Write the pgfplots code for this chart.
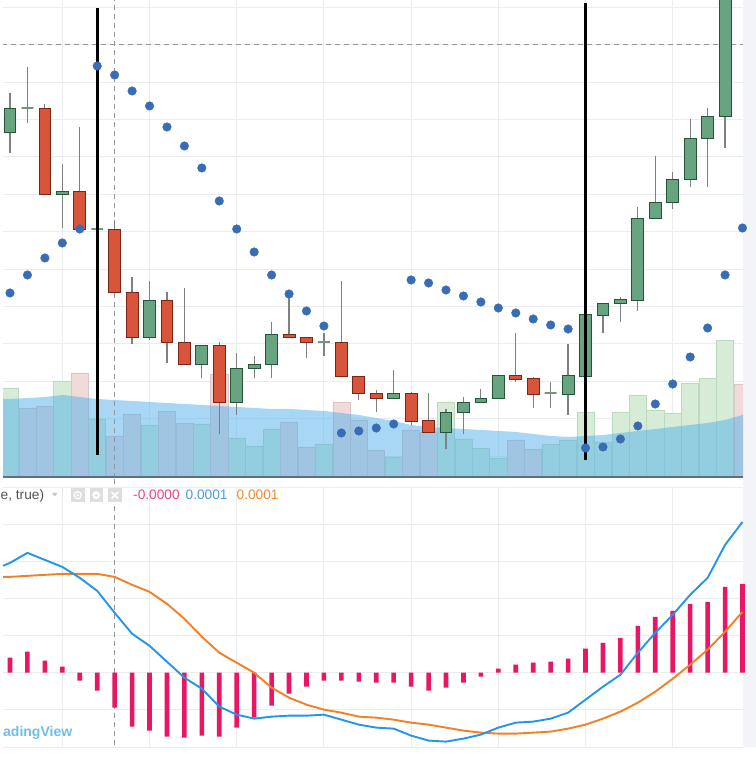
\documentclass[border=0pt]{standalone}
\usepackage{pgfplots}
\pgfplotsset{compat=1.18}
\usepackage{pgfplotstable}
\usepackage{fontspec}
\setmainfont{Liberation Sans}
\definecolor{gridc}{RGB}{234,236,240}
\definecolor{upfill}{RGB}{104,164,128}
\definecolor{updraw}{RGB}{38,84,58}
\definecolor{dnfill}{RGB}{216,84,58}
\definecolor{dndraw}{RGB}{122,38,22}
\definecolor{wickc}{RGB}{128,128,128}
\definecolor{dojic}{RGB}{112,150,124}
\definecolor{volup}{RGB}{214,236,214}
\definecolor{volupd}{RGB}{188,218,190}
\definecolor{voldn}{RGB}{240,218,218}
\definecolor{voldnd}{RGB}{222,196,198}
\definecolor{volma}{RGB}{81,177,235}
\definecolor{sarc}{RGB}{56,108,180}
\definecolor{histc}{RGB}{232,22,100}
\definecolor{macdc}{RGB}{36,150,232}
\definecolor{sigc}{RGB}{244,128,36}
\definecolor{axisc}{RGB}{98,110,126}
\definecolor{stripc}{RGB}{243,244,247}
\definecolor{dashc}{RGB}{150,150,150}
\definecolor{hdrtext}{RGB}{85,85,85}
\definecolor{iconc}{RGB}{222,222,222}
\definecolor{vpink}{RGB}{230,70,140}
\definecolor{vblue}{RGB}{70,160,225}
\definecolor{vorange}{RGB}{240,140,50}
\definecolor{wmark}{RGB}{110,190,232}

% candles: i open close high low type (1 up, 0 down, 2 doji)
\pgfplotstableread{
i o c h l t
0 346 370 385 325 1
1 370 370 411 355 2
2 370 284 374 284 0
3 284 287 314 250 1
4 287 249 351 249 0
5 249 249 276 243 2
6 249 186 258 186 0
7 186 141 201 134 0
8 141 178 197 138 1
9 178 136 186 115 0
10 136 114 190 114 0
11 114 133 133 100 1
12 133 76 136 44 0
13 76 110 125 63 1
14 110 114 122 100 1
15 114 144 156 100 1
16 144 141 184 141 0
17 141 136 141 120 0
18 136 136 145 122 2
19 136 102 197 102 0
20 102 85 102 78 0
21 85 80 88 66 0
22 80 85 108 80 1
23 85 57 86 53 0
24 58 46 85 46 0
25 46 66 69 29 1
26 66 76 81 44 1
27 76 80 89 76 1
28 80 103 103 80 1
29 103 99 145 96 0
30 100 84 101 70 0
31 85 85 96 70 2
32 84 103 134 63 1
33 102 164 173 98 1
34 163 175 175 145 1
35 175 179 181 156 1
36 178 260 271 167 1
37 260 276 322 260 1
38 276 299 306 269 1
39 299 340 359 291 1
40 340 362 370 291 1
41 362 508 518 330 1
}\candles

\pgfplotsset{
  panel/.style={scale only axis, anchor=south west, width=740bp,
    xmin=-0.4014, xmax=42.03,
    axis line style={draw=none}, tick style={draw=none},
    xticklabels={}, yticklabels={},
    xtick={3,8,...,38}, grid=major,
    major grid style={gridc, line width=0.9bp}},
  wick/.style={wickc, line width=1.2bp},
  body0/.style={fill=dnfill, draw=dndraw, line width=0.9bp},
  body1/.style={fill=upfill, draw=updraw, line width=0.9bp},
  body2/.style={draw=dojic, line width=1.3bp},
}

\begin{document}
\begin{tikzpicture}[x=1bp,y=1bp]
\useasboundingbox (0,0) rectangle (756,757);
\fill[white] (0,0) rectangle (756,757);
\fill[stripc] (743,10) rectangle (756,757);

% ---------------- price panel ----------------
\begin{axis}[panel, at={(3bp,279bp)}, height=478bp, ymin=0, ymax=478,
  ytick={22,59.4,96.8,134.2,171.6,209,246.4,283.8,321.2,358.6,396,433.4,470.8}]
% volume bars
\addplot[ybar, bar width=0.98, bar shift=0pt, fill=volup, draw=volupd, line width=0.6bp] coordinates {
(0,90)(3,97)(5,59)(8,53)(11,54)(13,40)(14,32)(15,49)(18,34)(22,21)(25,76)(26,39)(27,30)(28,20)
(31,34)(32,38)(33,66)(34,36)(35,66)(36,83)(37,68)(38,65)(39,95)(40,100)(41,138)};
\addplot[ybar, bar width=0.98, bar shift=0pt, fill=voldn, draw=voldnd, line width=0.6bp] coordinates {
(1,70)(2,72)(4,105)(6,42)(7,64)(9,67)(10,55)(12,104)(16,56)(17,31)(19,76)(20,58)(21,28)(23,48)(24,46)
(29,38)(30,29)(42,94)};
% volume moving average area
\addplot[draw=none, fill=volma, fill opacity=0.5] coordinates {
(-0.45,79)(0,79)(1,80)(2,81)(3,83)(4,81)(5,79)(6,78)(7,77)(8,76)(9,75)(10,74)(11,73)(12,72)(13,71)
(14,70)(15,69)(16,69)(17,68)(18,67)(19,65)(20,63)(21,60)(22,57)(23,53)(24,51)(25,50)(26,49)(27,48)
(28,47)(29,46)(30,44)(31,42)(32,41)(33,42)(34,43)(35,45)(36,47)(37,49)(38,51)(39,53)(40,55)(41,58)
(42,63)(42.1,64)} \closedcycle;
% crosshair
\addplot[dashc, line width=1bp, dash pattern=on 5bp off 4bp] coordinates {(-0.45,433) (42.1,433)};
\addplot[dashc, line width=1bp, dash pattern=on 5bp off 4bp] coordinates {(6,0) (6,478)};
% candles
\pgfplotsinvokeforeach{0,...,41}{%
  \pgfplotstablegetelem{#1}{o}\of\candles\let\cO\pgfplotsretval
  \pgfplotstablegetelem{#1}{c}\of\candles\let\cC\pgfplotsretval
  \pgfplotstablegetelem{#1}{h}\of\candles\let\cH\pgfplotsretval
  \pgfplotstablegetelem{#1}{l}\of\candles\let\cL\pgfplotsretval
  \pgfplotstablegetelem{#1}{t}\of\candles\let\cT\pgfplotsretval
  \pgfmathsetmacro\xa{#1-0.34}%
  \pgfmathsetmacro\xb{#1+0.34}%
  \edef\tmp{\noexpand\addplot[wick] coordinates {(#1,\cH) (#1,\cL)};%
    \noexpand\addplot[body\cT] coordinates {(\xa,\cO) (\xb,\cO) (\xb,\cC) (\xa,\cC)} -- cycle;}%
  \tmp
}
% parabolic SAR
\addplot[only marks, mark=*, mark size=4.3bp, mark options={fill=sarc, draw=sarc}] coordinates {
(0,185)(1,203)(2,220)(3,235)(4,249)(5,412)(6,403)(7,387)(8,372)(9,351)(10,332)(11,310)(12,277)(13,249)
(14,226)(15,203)(16,184)(17,167)(18,152)(19,45)(20,47)(21,50)(22,54)(23,198)(24,195)(25,188)(26,182)
(27,176)(28,170)(29,165)(30,159)(31,153)(32,149)(33,30)(34,31)(35,39)(36,52)(37,74)(38,94)(39,121)
(40,150)(41,203)(42,250)};
% vertical markers
\addplot[black, line width=2.6bp] coordinates {(5,23) (5,470)};
\addplot[black, line width=2.6bp] coordinates {(33,18) (33,475)};
\end{axis}
\draw[axisc, line width=2bp] (3,279.5) -- (743,279.5);

% ---------------- MACD panel ----------------
\begin{axis}[panel, at={(3bp,10bp)}, height=260bp, ymin=-74.4, ymax=186, clip=false,
  ytick={-74.4,-37.2,0,37.2,74.4,111.6,148.8,186}]
\addplot[dashc, line width=1bp, dash pattern=on 5bp off 4bp] coordinates {(6,-72) (6,196)};
\addplot[ybar, bar width=4.6bp, bar shift=0pt, fill=histc, draw=none] coordinates {
(0,15)(1,21)(2,12)(3,6)(4,-8)(5,-18)(6,-35)(7,-54)(8,-58)(9,-64)(10,-65)(11,-63)(12,-64)(13,-55)
(14,-45)(15,-33)(16,-21)(17,-14)(18,-8)(19,-8)(20,-9)(21,-10)(22,-10)(23,-14)(24,-18)(25,-15)(26,-10)
(27,-4)(28,4)(29,8)(30,10)(31,11)(32,14)(33,24)(34,30)(35,35)(36,47)(37,56)(38,62)(39,69)(40,71)
(41,86)(42,89)};
\addplot[sigc, line width=1.9bp] coordinates {
(-0.4,96)(0,96)(1,97)(2,98)(3,99)(4,99)(5,99)(6,96)(7,88)(8,81)(9,69)(10,54)(11,36)(12,20)(13,10)
(14,0)(15,-15)(16,-25)(17,-32)(18,-37)(19,-40)(20,-44)(21,-45)(22,-47)(23,-50)(24,-52)(25,-55)(26,-58)
(27,-60)(28,-61)(29,-61)(30,-60)(31,-59)(32,-56)(33,-52)(34,-46)(35,-39)(36,-30)(37,-19)(38,-6)
(39,8)(40,23)(41,41)(42,61)};
\addplot[macdc, line width=1.9bp] coordinates {
(-0.4,107)(0,110)(1,120)(2,113)(3,106)(4,95)(5,82)(6,60)(7,39)(8,27)(9,11)(10,-5)(11,-16)(12,-34)
(13,-42)(14,-46)(15,-44)(16,-43)(17,-43)(18,-42)(19,-47)(20,-52)(21,-55)(22,-56)(23,-63)(24,-68)
(25,-69)(26,-66)(27,-62)(28,-55)(29,-50)(30,-49)(31,-46)(32,-40)(33,-27)(34,-14)(35,-2)(36,20)
(37,40)(38,58)(39,78)(40,95)(41,128)(42,151)};
\end{axis}

% ---------------- header of MACD pane ----------------
\node[anchor=base west, inner sep=0, text=hdrtext] at (0.5,257)
  {\fontsize{13.7bp}{16bp}\selectfont e, true)};
\fill[black!22] (52,264) -- (57.5,264) -- (54.75,260.5) -- cycle;
\foreach \bx in {71,89.5,108}{\fill[iconc] (\bx,255) rectangle ++(13.5,13.5);}
\draw[white, line width=1.2bp] (77.75,261.75) circle (3.6bp);
\fill[white] (77.75,261.75) circle (1.3bp);
\fill[white] (96.25,261.75) circle (4bp);
\fill[iconc] (96.25,261.75) circle (1.6bp);
\draw[white, line width=1.5bp] (111.5,258.5) -- (118,265) (111.5,265) -- (118,258.5);
\node[anchor=base west, inner sep=0, text=vpink] at (133,257)
  {\fontsize{13.7bp}{16bp}\selectfont -0.0000};
\node[anchor=base west, inner sep=0, text=vblue] at (185.5,257)
  {\fontsize{13.7bp}{16bp}\selectfont 0.0001};
\node[anchor=base west, inner sep=0, text=vorange] at (236.5,257)
  {\fontsize{13.7bp}{16bp}\selectfont 0.0001};
% watermark
\node[anchor=base west, inner sep=0, text=wmark] at (3,20)
  {\fontsize{14bp}{17bp}\selectfont\bfseries adingView};
\end{tikzpicture}
\end{document}
